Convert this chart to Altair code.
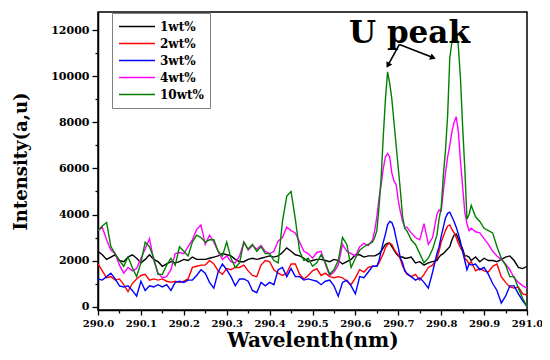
import altair as alt
import pandas as pd

# ---- data ----
wavelength = [
    290.00, 290.01, 290.02, 290.03, 290.04, 290.05, 290.06, 290.07, 290.08, 290.09,
    290.10, 290.11, 290.12, 290.13, 290.14, 290.15, 290.16, 290.17, 290.18, 290.19,
    290.20, 290.21, 290.22, 290.23, 290.24, 290.25, 290.26, 290.27, 290.28, 290.29,
    290.30, 290.31, 290.32, 290.33, 290.34, 290.35, 290.36, 290.37, 290.38, 290.39,
    290.40, 290.41, 290.42, 290.43, 290.44, 290.45, 290.46, 290.47, 290.48, 290.49,
    290.50, 290.51, 290.52, 290.53, 290.54, 290.55, 290.56, 290.57, 290.58, 290.59,
    290.60, 290.61, 290.62, 290.63,
    290.640, 290.645, 290.650, 290.655, 290.660, 290.665, 290.670, 290.675, 290.680,
    290.685, 290.690, 290.695, 290.700, 290.705, 290.710, 290.715, 290.720,
    290.73, 290.74, 290.75, 290.76, 290.77, 290.78,
    290.790, 290.795, 290.800, 290.805, 290.810, 290.815, 290.820, 290.825, 290.830,
    290.835, 290.840, 290.845, 290.850, 290.855, 290.860, 290.865, 290.870,
    290.88, 290.89, 290.90, 290.91, 290.92, 290.93, 290.94, 290.95, 290.96, 290.97,
    290.98, 290.99, 291.00,
]

wt1 = [
    2400, 2250, 2050, 2150, 2250, 2000, 1950, 2150, 2250, 2100,
    1900, 2050, 2250, 2050, 1950, 1750, 1850, 1950, 1900, 1950,
    2050, 2000, 2150, 2050, 2050, 2050, 2100, 2150, 2200, 2300,
    2250, 2200, 2050, 1950, 1950, 2050, 2100, 2050, 2100, 2150,
    2200, 2150, 2200, 2350, 2550, 2400, 2250, 2200, 2100, 1950,
    2000, 2050, 2050, 2000, 1950, 2050, 2000, 1850, 1950, 2050,
    2250, 2250, 2150, 2200,
    2200, 2200, 2250, 2300, 2400, 2550, 2700, 2750, 2750, 2600, 2450, 2300, 2200, 2150, 2150, 2100, 2100,
    2150, 1900, 1950, 1800, 1900, 1950,
    2000, 2150, 2250, 2300, 2400, 2500, 2600, 2900, 3100, 3150, 2950, 2700, 2500, 2200, 2200, 2150, 2000,
    2150, 1950, 2100, 2000, 2000, 1950, 2050, 2150, 2200, 2000, 1700, 1650, 1750,
]

wt2 = [
    1850, 1550, 1250, 1300, 1150, 1200, 950, 650, 1000, 1200,
    1350, 1400, 1150, 1200, 1150, 1200, 1100, 1050, 1100, 1050,
    1100, 1200, 1700, 1750, 1800, 1800, 2000, 1850, 1550, 1400,
    1650, 1600, 1700, 1700, 1800, 1550, 1350, 1300, 1800, 2000,
    1950, 1600, 1450, 1350, 1450, 1850, 1850, 1400, 1200, 1350,
    1550, 1650, 1350, 1450, 1300, 1250, 1300, 1250, 1100, 950,
    1250, 1600, 1500, 1700,
    1750, 1750, 1750, 1900, 2100, 2300, 2550, 2700, 2750, 2700, 2500, 2350, 2250, 2050, 1750, 1600, 1400,
    1300, 1400, 1150, 1400, 1700, 1800,
    2100, 2400, 2800, 3050, 3300, 3500, 3550, 3350, 3200, 3000, 2750, 2550, 2400, 2100, 2000, 1850, 1950,
    1550, 1650, 1550, 1500, 1750, 1850, 1300, 1050, 850, 800, 850, 550, 500,
]

wt3 = [
    1200, 1150, 1300, 1450, 1200, 900, 850, 900, 700, 450,
    1100, 700, 900, 850, 950, 850, 950, 700, 1050, 1100,
    1050, 1150, 1150, 1350, 1600, 1450, 1050, 800, 1500, 1850,
    1600, 1300, 900, 1200, 1200, 1100, 700, 600, 1050, 900,
    1050, 950, 1600, 1700, 1300, 1650, 1300, 1300, 1150, 1200,
    1150, 1100, 950, 1100, 1150, 900, 450, 1050, 1150, 900,
    550, 1300, 1250, 1500,
    1750, 1750, 1750, 2000, 2400, 2800, 3150, 3550, 3700, 3650, 3400, 2950, 2550, 2100, 1900, 1550, 1450,
    1300, 1150, 1250, 1050, 800, 1500,
    2300, 2600, 3050, 3450, 3850, 4050, 4100, 3900, 3700, 3450, 3150, 2800, 2400, 2000, 1600, 1850, 1800,
    1850, 1600, 1700, 1400, 1000, 700, 150, 450, 900, 900, 550, 250, 0,
]

wt4 = [
    3300, 3450, 2900, 2450, 2300, 1800, 1450, 1700, 1550, 1650,
    2100, 2500, 2950, 2000, 1450, 1250, 1300, 1600, 2300, 2350,
    2300, 2600, 2900, 3350, 3550, 2700, 3100, 2800, 2400, 2050,
    2200, 1950, 1900, 2200, 2800, 2450, 2650, 2500, 2650, 2400,
    2300, 2400, 2850, 3000, 3450, 3300, 3200, 2800, 2400, 2300,
    2100, 2350, 2400, 1850, 1350, 1500, 1800, 2700, 2400, 2300,
    2200, 2600, 2750, 2650,
    2900, 3300, 3900, 4700, 5300, 6000, 6500, 6650, 6500, 5800, 5450, 5300, 4600, 4100, 3700, 3450, 3450,
    3200, 3000, 2900, 3600, 2700, 3000,
    4000, 4200, 4150, 5000, 5800, 6500, 7000, 7600, 8000, 8250, 7600, 6300, 5200, 4100, 3600, 3300, 3400,
    3250, 3200, 2950, 2700, 2400, 2200, 2050, 1850, 1600, 1250, 1050, 900, 800,
]

wt10 = [
    3300, 3500, 3650, 2600, 2300, 2000, 1750, 2150, 1700, 1300,
    1900, 2800, 2600, 2100, 1400, 1400, 1800, 2100, 1800, 2600,
    2400, 2200, 2800, 3100, 3000, 2800, 2900, 2900, 2400, 2200,
    2800, 2100, 1700, 1900, 2800, 2500, 2700, 2400, 2600, 2300,
    2300, 2000, 1900, 3700, 4800, 5000, 3800, 2400, 2000, 2100,
    1750, 1900, 2250, 1900, 1400, 1600, 2000, 3000, 2700, 1700,
    2100, 2450, 2600, 2700,
    2800, 3000, 3300, 4300, 5600, 7400, 9000, 10200, 9700, 9000, 8000, 7000, 6000, 5000, 3900, 3400, 3300,
    2900, 2700, 2300, 1900, 2100, 2500,
    3100, 3800, 4300, 5700, 6800, 8300, 10800, 11500, 12000, 12050, 11300, 9900, 7800, 6000, 3800, 4000, 4400,
    3900, 3700, 3400, 3300, 3200, 2600, 2100, 1800, 1300, 1300, 800, 350, 0,
]

series_names = ["1wt%", "2wt%", "3wt%", "4wt%", "10wt%"]
series_colors = ["#000000", "#ff0000", "#0000ff", "#ff00ff", "#008000"]

x_ticks = [290.0, 290.05, 290.1, 290.15, 290.2, 290.25, 290.3, 290.35, 290.4, 290.45, 290.5,
           290.55, 290.6, 290.65, 290.7, 290.75, 290.8, 290.85, 290.9, 290.95, 291.0]
y_ticks = [0, 1000, 2000, 3000, 4000, 5000, 6000, 7000, 8000, 9000, 10000, 11000, 12000]

# annotation ("U peak" with two arrows)
note_text = ["U peak"]
note_x = [290.726]
note_y = [11850]
arrow_x = [290.7026, 290.7026]
arrow_y = [11390, 11390]
arrow_x2 = [290.677, 290.779]
arrow_y2 = [10520, 10830]
arrow_angle = [208.8, 111.5]

# ---- build table ----
rows = []
for name, vals in zip(series_names, [wt1, wt2, wt3, wt4, wt10]):
    for w, v in zip(wavelength, vals):
        rows.append({"wl": w, "I": v, "series": name})
df = pd.DataFrame(rows)

FONT = "DejaVu Serif"
W, H = 429, 298

xscale = alt.Scale(domain=[290.0, 291.0], nice=False, zero=False)
yscale = alt.Scale(domain=[-150, 12800], nice=False, zero=False)

xaxis = alt.Axis(
    values=x_ticks,
    labelExpr="abs(datum.value*10 - round(datum.value*10)) < 0.001 ? format(datum.value, '.1f') : ''",
    tickSize={"condition": {"test": "abs(datum.value*10 - round(datum.value*10)) < 0.001", "value": 5}, "value": 3},
    labelOverlap=False, labelFlush=False,
    labelFontSize=10, labelPadding=3,
    titleFontSize=20, titleX=W / 2, titleY=36, titleBaseline="alphabetic", titleAlign="center",
)
yaxis = alt.Axis(
    values=y_ticks,
    labelExpr="datum.value % 2000 == 0 ? format(datum.value, 'd') : ''",
    tickSize={"condition": {"test": "datum.value % 2000 == 0", "value": 6}, "value": 3},
    labelOverlap=False,
    labelFontSize=11, labelPadding=3,
    titleFontSize=18, titleX=-77, titleY=149, titleBaseline="middle", titleAlign="center", titleAngle=270,
)

X = lambda f: alt.X(f, scale=xscale, axis=xaxis, title="Wavelenth(nm)")
Y = lambda f: alt.Y(f, scale=yscale, axis=yaxis, title="Intensity(a,u)")

color = alt.Color(
    "series:N",
    scale=alt.Scale(domain=series_names, range=series_colors),
    legend=alt.Legend(
        title=None, orient="none", legendX=14, legendY=1,
        symbolType="stroke", symbolSize=1296, symbolStrokeWidth=1.5,
        labelFont=FONT, labelFontWeight="bold", labelFontSize=12, labelColor="black",
        labelOffset=4, clipHeight=15, rowPadding=2, padding=6,
        strokeColor="#808080", fillColor="white",
    ),
)

base = alt.Chart(df)
layers = []
for name in series_names:
    layers.append(
        base.transform_filter(alt.datum.series == name)
        .mark_line(strokeWidth=1.4, clip=True)
        .encode(x=X("wl:Q"), y=Y("I:Q"), color=color)
    )

arrow_df = pd.DataFrame({"wl": arrow_x, "I": arrow_y, "wl2": arrow_x2, "I2": arrow_y2, "ang": arrow_angle})
rules = alt.Chart(arrow_df).mark_rule(color="black", strokeWidth=1.6).encode(
    x=X("wl:Q"), y=Y("I:Q"), x2="wl2:Q", y2="I2:Q"
)
heads = alt.Chart(arrow_df).mark_point(shape="triangle", filled=True, color="black", size=45, opacity=1).encode(
    x=X("wl2:Q"), y=Y("I2:Q"), angle=alt.Angle("ang:Q", scale=None)
)
note_df = pd.DataFrame({"wl": note_x, "I": note_y, "t": note_text})
note = alt.Chart(note_df).mark_text(font=FONT, fontWeight="bold", fontSize=31, color="black", baseline="middle").encode(
    x=X("wl:Q"), y=Y("I:Q"), text="t:N"
)

chart = (
    alt.layer(*layers, rules, heads, note)
    .properties(
        width=W, height=H,
        autosize=alt.AutoSizeParams(type="none"),
        padding={"left": 90, "top": 4, "right": 15, "bottom": 42},
        background="white",
    )
    .configure_view(stroke="black", strokeWidth=1.5)
    .configure_axis(
        grid=False, domainColor="black", domainWidth=1.5, tickColor="black", tickWidth=1.3,
        labelFont=FONT, labelFontWeight="bold", labelColor="black",
        titleFont=FONT, titleFontWeight="bold", titleColor="black",
    )
)

chart.save("out.html", embed_options={"renderer": "svg", "actions": False})
